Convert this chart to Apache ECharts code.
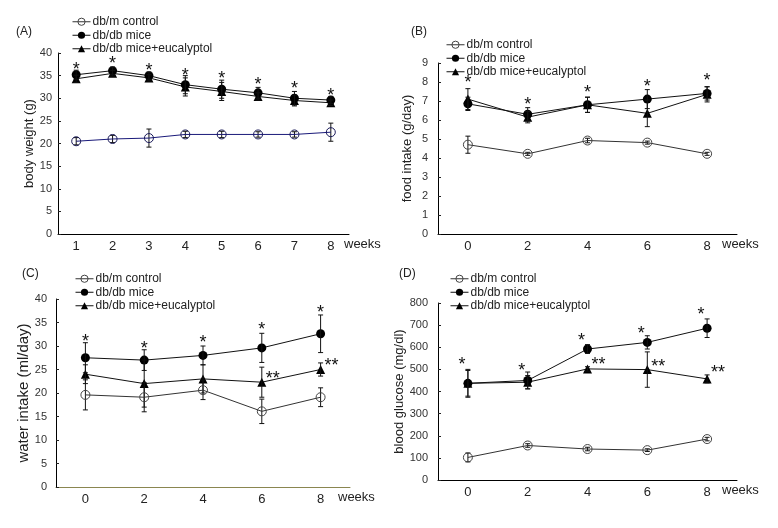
<!DOCTYPE html>
<html>
<head>
<meta charset="utf-8">
<script src="https://cdn.jsdelivr.net/npm/echarts@6/dist/echarts.min.js"></script>
<style>html,body{margin:0;padding:0;background:#fff}#c{width:778px;height:528px}</style>
</head>
<body>
<div id="c"></div>
<script>
// ---------- data ----------
const seriesNames = ['db/m control', 'db/db mice', 'db/db mice+eucalyptol'];
const weeksA = ['1', '2', '3', '4', '5', '6', '7', '8'];
const weeksB = ['0', '2', '4', '6', '8'];

// (A) body weight (g)
const bwControl = [20.5, 21.0, 21.2, 22.0, 22.0, 22.0, 22.0, 22.5];
const bwControlErr = [0.8, 0.8, 2.0, 0.7, 0.7, 0.6, 0.6, 2.0];
const bwDb = [35.2, 36.1, 35.0, 33.0, 32.0, 31.2, 30.0, 29.6];
const bwDbErr = [1.0, 0.8, 0.8, 2.0, 2.0, 1.2, 1.5, 0.8];
const bwEu = [34.3, 35.5, 34.5, 32.5, 31.5, 30.4, 29.5, 29.0];
const bwEuErr = [0.8, 0.6, 0.7, 2.0, 2.0, 0.8, 1.2, 0.6];
const bwStars = [37.4, 38.6, 37.2, 36.1, 35.3, 34.0, 33.2, 31.5];

// (B) food intake (g/day)
const fiControl = [4.7, 4.22, 4.92, 4.81, 4.22];
const fiControlErr = [0.45, 0.08, 0.12, 0.08, 0.08];
const fiDb = [6.85, 6.3, 6.8, 7.1, 7.4];
const fiDbErr = [0.35, 0.35, 0.4, 0.5, 0.35];
const fiEu = [7.1, 6.15, 6.8, 6.35, 7.35];
const fiEuErr = [0.55, 0.3, 0.4, 0.7, 0.4];
const fiStars = [8.2, 7.05, 7.7, 8.0, 8.3];

// (C) water intake (ml/day)
const wiControl = [19.6, 19.1, 20.6, 16.1, 19.1];
const wiControlErr = [3.2, 3.1, 2.0, 2.6, 2.0];
const wiDb = [27.5, 27.0, 28.0, 29.6, 32.6];
const wiDbErr = [3.2, 2.2, 2.0, 3.1, 4.0];
const wiEu = [24.0, 22.0, 23.0, 22.3, 25.0];
const wiEuErr = [2.0, 5.0, 3.0, 3.2, 1.4];
const wiStars = [31.9, 30.4, 31.6, 34.5, 38.1];
const wiStars2 = [null, null, null, 24.0, 26.8];

// (D) blood glucose (mg/dl)
const bgControl = [102, 156, 140, 135, 185];
const bgControlErr = [20, 8, 8, 6, 8];
const bgDb = [437, 450, 592, 622, 686];
const bgDbErr = [63, 38, 20, 30, 42];
const bgEu = [437, 442, 502, 499, 457];
const bgEuErr = [58, 30, 10, 80, 18];
const bgStars = [541, 513, 650, 681, 770];
const bgStars2 = [null, null, 541, 534, 504];

// ---------- helpers ----------
const FONT = 'Liberation Sans, Arial, sans-serif';
const panels = [
  {grid: {left: 58, top: 53, width: 291, height: 181}, cats: weeksA, max: 40, interval: 5,
   yName: 'body weight (g)', yNameGap: 18, yNameSize: 13, labelMargin: 6, weeksGap: -5, axisColor: '#000',
   legend: {left: 67, top: 10}, tag: '(A)', tagPos: [25, 33], controlColor: '#1a1a7a',
   data: [[bwControl, bwControlErr], [bwDb, bwDbErr], [bwEu, bwEuErr]], stars: bwStars, stars2: null},
  {grid: {left: 438, top: 63, width: 299, height: 171}, cats: weeksB, max: 9, interval: 1,
   yName: 'food intake (g/day)', yNameGap: 24, yNameSize: 13, labelMargin: 10, weeksGap: -15, axisColor: '#000',
   legend: {left: 441, top: 33}, tag: '(B)', tagPos: [420, 33], controlColor: '#333',
   data: [[fiControl, fiControlErr], [fiDb, fiDbErr], [fiEu, fiEuErr]], stars: fiStars, stars2: null},
  {grid: {left: 56, top: 299, width: 294, height: 188}, cats: weeksB, max: 40, interval: 5,
   yName: 'water intake (ml/day)', yNameGap: 23, yNameSize: 15, labelMargin: 9, weeksGap: -12, axisColor: '#000', xAxisColor: '#8a8650',
   legend: {left: 70, top: 267}, tag: '(C)', tagPos: [31, 275], controlColor: '#333',
   data: [[wiControl, wiControlErr], [wiDb, wiDbErr], [wiEu, wiEuErr]], stars: wiStars, stars2: wiStars2},
  {grid: {left: 438, top: 303, width: 299, height: 177}, cats: weeksB, max: 800, interval: 100,
   yName: 'blood glucose (mg/dl)', yNameGap: 32, yNameSize: 13, labelMargin: 10, weeksGap: -15, axisColor: '#000',
   legend: {left: 445, top: 267}, tag: '(D)', tagPos: [408, 275], controlColor: '#333',
   data: [[bgControl, bgControlErr], [bgDb, bgDbErr], [bgEu, bgEuErr]], stars: bgStars, stars2: bgStars2, starShift: [-6, 0]}
];

const symbols = ['circle', 'circle', 'triangle'];

function errRender(params, api) {
  const x = api.value(0), y = api.value(1), e = api.value(2);
  const t = api.coord([x, y + e]);
  const b = api.coord([x, y - e]);
  const st = {stroke: '#111', lineWidth: 1};
  return {type: 'group', children: [
    {type: 'line', shape: {x1: t[0], y1: t[1], x2: b[0], y2: b[1]}, style: st},
    {type: 'line', shape: {x1: t[0] - 2.5, y1: t[1], x2: t[0] + 2.5, y2: t[1]}, style: st},
    {type: 'line', shape: {x1: b[0] - 2.5, y1: b[1], x2: b[0] + 2.5, y2: b[1]}, style: st}
  ]};
}

function starRender(text, dx) {
  return function (params, api) {
    const p = api.coord([api.value(0), api.value(1)]);
    return {type: 'text', x: p[0] + dx, y: p[1] + 5,
      style: {text: text, font: '18px ' + FONT, fill: '#111', align: 'center', verticalAlign: 'middle'}};
  };
}

const grids = [], xAxes = [], yAxes = [], series = [], legends = [], graphics = [];
panels.forEach((p, i) => {
  grids.push(p.grid);
  xAxes.push({type: 'category', gridIndex: i, data: p.cats, boundaryGap: true,
    name: 'weeks', nameLocation: 'end', nameGap: p.weeksGap,
    nameTextStyle: {fontFamily: FONT, fontSize: 13, color: '#222', align: 'left', verticalAlign: 'top', padding: [4, 0, 0, 0]},
    axisLine: {lineStyle: {color: p.xAxisColor || p.axisColor, width: 1}},
    axisTick: {inside: true, length: 3, lineStyle: {color: '#222'}},
    axisLabel: {fontFamily: FONT, fontSize: 13, color: '#222', margin: 6},
    splitLine: {show: false}});
  yAxes.push({type: 'value', gridIndex: i, min: 0, max: p.max, interval: p.interval,
    name: p.yName, nameLocation: 'middle', nameGap: p.yNameGap, nameRotate: 90,
    nameTextStyle: {fontFamily: FONT, fontSize: p.yNameSize, color: '#222'},
    axisLine: {show: true, lineStyle: {color: p.axisColor, width: 1}},
    axisTick: {show: true, inside: true, length: 3, lineStyle: {color: '#222'}},
    axisLabel: {fontFamily: FONT, fontSize: 11, color: '#333', margin: p.labelMargin},
    splitLine: {show: false}});
  p.data.forEach((d, k) => {
    const vals = d[0], errs = d[1];
    const isCtrl = k === 0;
    const lineColor = isCtrl ? p.controlColor : '#111';
    series.push({type: 'custom', name: seriesNames[k] + ' err', xAxisIndex: i, yAxisIndex: i,
      renderItem: errRender, z: 3, silent: true,
      data: vals.map((v, j) => [j, v, errs[j]])});
    series.push({type: 'line', name: seriesNames[k], xAxisIndex: i, yAxisIndex: i,
      data: vals, symbol: symbols[k], symbolSize: 9, showSymbol: true,
      lineStyle: {color: lineColor, width: 1}, z: isCtrl ? 4 : 2,
      itemStyle: isCtrl ? {color: 'rgba(0,0,0,0)', borderColor: i === 0 ? '#1a1a5a' : '#444', borderWidth: 1}
                        : {color: '#000', borderColor: '#000', borderWidth: 0},
      emphasis: {disabled: true}, animation: false});
  });
  const sx = p.starShift ? p.starShift[0] : 0;
  series.push({type: 'custom', name: 'stars' + i, xAxisIndex: i, yAxisIndex: i, renderItem: starRender('*', sx), z: 6,
    data: p.stars.map((v, j) => [j, v]), silent: true});
  if (p.stars2) {
    series.push({type: 'custom', name: 'stars2_' + i, xAxisIndex: i, yAxisIndex: i, renderItem: starRender('**', 11), z: 6,
      data: p.stars2.map((v, j) => v == null ? null : [j, v]).filter(x => x), silent: true});
  }
  legends.push({left: p.legend.left, top: p.legend.top, orient: 'vertical', itemGap: 0,
    itemWidth: 18, itemHeight: 9, selectedMode: false,
    textStyle: {fontFamily: FONT, fontSize: 12, color: '#222', padding: [0, 0, 0, -3], lineHeight: 13.5},
    data: [
      {name: seriesNames[0], itemStyle: {color: 'rgba(0,0,0,0)', borderColor: '#444', borderWidth: 1}, lineStyle: {color: '#333', width: 1}},
      {name: seriesNames[1], itemStyle: {color: '#000', borderWidth: 0}, lineStyle: {color: '#111', width: 1}},
      {name: seriesNames[2], itemStyle: {color: '#000', borderWidth: 0}, lineStyle: {color: '#111', width: 1}}
    ]});
  graphics.push({type: 'text', left: p.tagPos[0] - 9, top: p.tagPos[1] - 7,
    style: {text: p.tag, font: '12px ' + FONT, fill: '#222'}});
});

const chart = echarts.init(document.getElementById('c'), null, {renderer: 'canvas'});
chart.setOption({
  backgroundColor: '#fff',
  animation: false,
  grid: grids, xAxis: xAxes, yAxis: yAxes,
  legend: legends, series: series, graphic: graphics
});
</script>
</body>
</html>
